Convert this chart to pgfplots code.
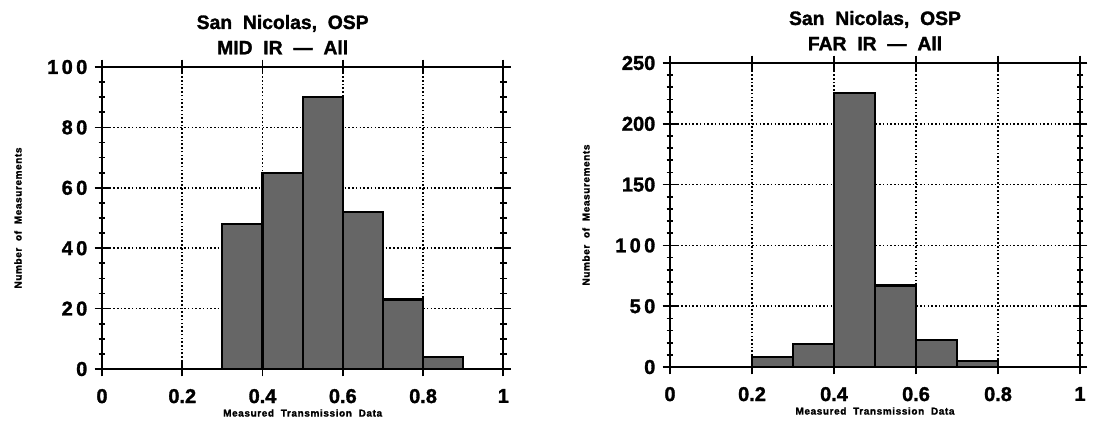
\documentclass[border=0pt]{standalone}
\usepackage{fontspec}
\setmainfont{Liberation Sans}[BoldFeatures={FakeBold=1.5}]
\usepackage{pgfplots}
\pgfplotsset{compat=1.18}

\pgfplotsset{
  histo/.style={
    scale only axis, xmin=0, xmax=1, ymin=0,
    xtick={0,0.2,0.4,0.6,0.8,1}, xticklabels={0,0.2,0.4,0.6,0.8,1},
    grid=major, major grid style={black, line width=1.2pt, dash pattern=on 1.2pt off 1.6pt},
    axis line style={line width=1.5pt},
    tick style={black, line width=1.3pt},
    major tick length=11pt, minor tick length=5pt, tick align=center,
    tick label style={font=\fontsize{15}{16}\selectfont\bfseries},
    xticklabel style={yshift=-6pt},
    yticklabel style={xshift=-2pt},
    /pgf/number format/assume math mode=true,
    title style={align=center, font=\fontsize{14.5}{19}\selectfont\bfseries},
    every axis y label/.style={at={(rel axis cs:0,0.5)}, xshift=-63pt, rotate=90, anchor=center,
      font=\fontsize{7.5}{9}\selectfont\bfseries\addfontfeature{LetterSpace=6}},
    every axis x label/.style={at={(rel axis cs:0.5,0)}, yshift=-33pt, anchor=center,
      font=\fontsize{7.5}{9}\selectfont\bfseries\addfontfeature{LetterSpace=6}},
    ylabel={Number~ of~ Measurements},
    xlabel={Measured~ Transmission~ Data},
  },
  bars/.style={ybar interval, fill=black!60, draw=black, line width=1.6pt},
}

\begin{document}
\begin{tikzpicture}
\useasboundingbox (0,0) rectangle (837.75pt,-316.5pt);

\begin{axis}[histo, at={(76.5pt,-276.75pt)}, anchor=south west,
  width=301pt, height=226.5pt, ymax=100,
  ytick={0,20,40,60,80,100}, yticklabels={0,2\,0,4\,0,6\,0,8\,0,1\,0\,0},
  minor y tick num=3, title style={xshift=-15pt},
  title={San~ Nicolas,~ OSP\\MID~ IR~ ---~ All}]
  \addplot[bars] coordinates {(0.3,48)(0.4,65)(0.5,90)(0.6,52)(0.7,23)(0.8,4)(0.9,4)};
\end{axis}

\begin{axis}[histo, at={(502.5pt,-275.25pt)}, anchor=south west,
  width=307.5pt, height=228pt, ymax=250,
  ytick={0,50,100,150,200,250}, yticklabels={0,5\,0,1\,0\,0,150,200,250},
  minor y tick num=4,
  title={San~ Nicolas,~ OSP\\FAR~ IR~ ---~ All}]
  \addplot[bars] coordinates {(0.2,8)(0.3,19)(0.4,225)(0.5,67)(0.6,22)(0.7,5)(0.8,5)};
\end{axis}
\end{tikzpicture}
\end{document}
